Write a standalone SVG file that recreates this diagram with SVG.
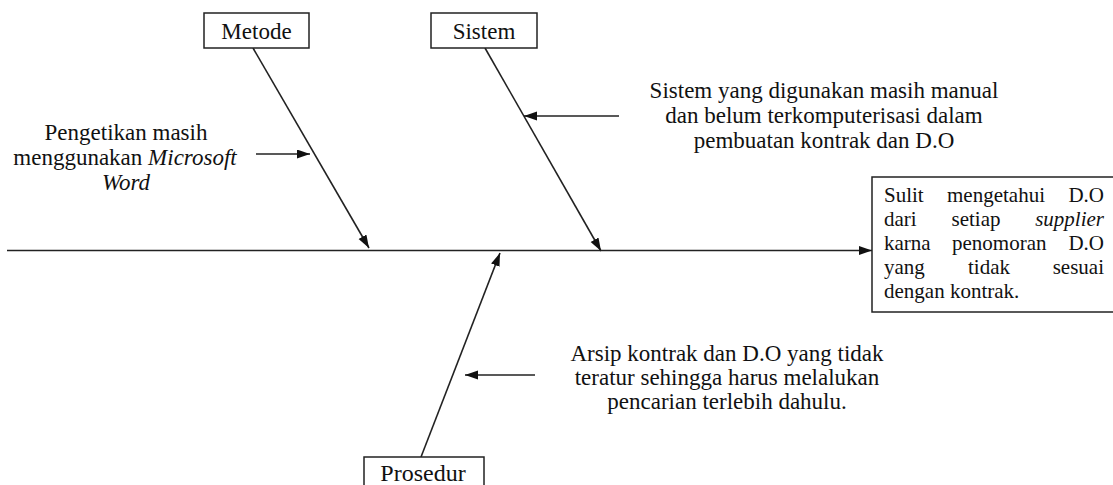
<svg xmlns="http://www.w3.org/2000/svg" width="1113" height="485" viewBox="0 0 1113 485">
  <defs>
    <marker id="arrow" markerUnits="userSpaceOnUse" markerWidth="14" markerHeight="10" refX="13" refY="4.5" orient="auto">
      <path d="M0,0 L13,4.5 L0,9 Z" fill="#111"/>
    </marker>
    <style>
      text { font-family: "Liberation Serif", "Times New Roman", "DejaVu Serif", serif; font-size: 23px; fill: #111; }
      .small { font-size: 21px; }
      .big { font-size: 24px; }
      .c { text-anchor: middle; }
      .e { text-anchor: end; }
      .i { font-style: italic; }
      .box { fill: #fff; stroke: #222; stroke-width: 1.5; }
      .bone { stroke: #222; stroke-width: 1.6; fill: none; marker-end: url(#arrow); }
      .pointer { stroke: #222; stroke-width: 1.5; fill: none; marker-end: url(#arrow); }
    </style>
  </defs>

  <rect width="1113" height="485" fill="#fff"/>

  <!-- spine and cause bones -->
  <g id="connectors">
    <line class="bone" x1="7" y1="250.5" x2="872" y2="250.5"/>
    <line class="bone" x1="253" y1="48" x2="369" y2="248"/>
    <line class="bone" x1="485" y1="48" x2="601" y2="251"/>
    <line class="bone" x1="421" y1="457" x2="500" y2="253"/>
    <line class="pointer" x1="256" y1="154" x2="310" y2="154"/>
    <line class="pointer" x1="619" y1="116" x2="524" y2="116"/>
    <line class="pointer" x1="535" y1="375" x2="465" y2="375"/>
  </g>

  <g id="metode">
    <rect class="box" x="204" y="13" width="105" height="35"/>
    <text class="c" x="256.5" y="39">Metode</text>
  </g>

  <g id="sistem">
    <rect class="box" x="431" y="13" width="106" height="35"/>
    <text class="c" x="484" y="39">Sistem</text>
  </g>

  <g id="prosedur">
    <rect class="box" x="364" y="457" width="120" height="40"/>
    <text class="c big" x="423" y="481">Prosedur</text>
  </g>

  <g id="note-metode">
    <text class="c" x="126" y="140">Pengetikan masih</text>
    <text class="c" x="125" y="165">menggunakan <tspan class="i">Microsoft</tspan></text>
    <text class="c i" x="126" y="190">Word</text>
  </g>

  <g id="note-sistem">
    <text class="c" x="824" y="98">Sistem yang digunakan masih manual</text>
    <text class="c" x="824" y="123">dan belum terkomputerisasi dalam</text>
    <text class="c" x="824" y="148">pembuatan kontrak dan D.O</text>
  </g>

  <g id="note-prosedur">
    <text class="c" x="727" y="361">Arsip kontrak dan D.O yang tidak</text>
    <text class="c" x="727" y="385">teratur sehingga harus melalukan</text>
    <text class="c" x="727" y="409">pencarian terlebih dahulu.</text>
  </g>

  <g id="effect">
    <rect class="box" x="872" y="177" width="260" height="135"/>
    <text class="small" x="884" y="202">Sulit</text>
    <text class="small" x="947" y="202">mengetahui</text>
    <text class="small e" x="1104" y="202">D.O</text>
    <text class="small" x="884" y="226">dari</text>
    <text class="small" x="951.5" y="226">setiap</text>
    <text class="small e i" x="1104" y="226">supplier</text>
    <text class="small" x="884" y="250">karna</text>
    <text class="small" x="952" y="250">penomoran</text>
    <text class="small e" x="1104" y="250">D.O</text>
    <text class="small" x="884" y="274">yang</text>
    <text class="small" x="968" y="274">tidak</text>
    <text class="small e" x="1104" y="274">sesuai</text>
    <text class="small" x="884" y="298">dengan kontrak.</text>
  </g>
</svg>
